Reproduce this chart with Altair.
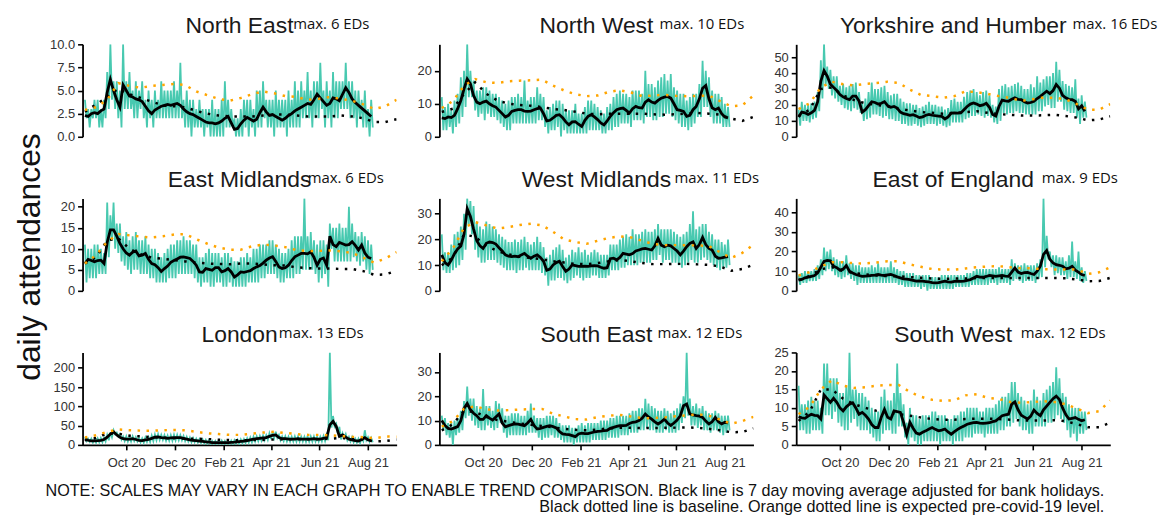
import altair as alt
import pandas as pd

REGIONS = ["North East", "North West", "Yorkshire and Humber",
           "East Midlands", "West Midlands", "East of England",
           "London", "South East", "South West"]
MAX_EDS = [6, 10, 16, 6, 11, 9, 13, 12, 12]

# daily attendances, sampled every 2 days from 2020-08-10 (182 values each)
NE_TEAL = [4, 2, 3, 1, 3, 2, 4, 2, 4, 1, 3, 1, 4, 2, 7, 3, 10, 4, 6, 3,
           6, 2, 5, 1, 10, 3, 6, 3, 7, 3, 5, 2, 6, 2, 5, 3, 6, 2, 4, 1,
           5, 2, 4, 1, 5, 2, 4, 2, 6, 2, 5, 2, 5, 2, 5, 2, 6, 2, 5, 2,
           8, 2, 4, 1, 5, 1, 4, 0, 4, 1, 3, 1, 4, 1, 3, 0, 3, 1, 3, 0,
           4, 0, 3, 0, 3, 0, 4, 0, 6, 1, 4, 1, 3, 1, 2, 0, 2, 0, 3, 0,
           4, 1, 4, 0, 4, 1, 3, 0, 5, 1, 5, 1, 6, 2, 4, 1, 4, 1, 4, 0,
           5, 1, 4, 1, 4, 1, 4, 0, 5, 1, 4, 1, 6, 1, 5, 1, 6, 2, 5, 2,
           7, 2, 5, 1, 6, 2, 6, 2, 8, 3, 5, 1, 6, 2, 5, 1, 7, 2, 6, 2,
           6, 3, 6, 3, 8, 3, 6, 2, 6, 2, 5, 1, 5, 2, 4, 1, 5, 1, 3, 0,
           4, 1]
NW_TEAL = [12, 2, 9, 2, 10, 3, 8, 1, 11, 3, 13, 4, 18, 6, 20, 9, 28, 12, 20, 12,
           17, 8, 14, 6, 14, 7, 15, 5, 15, 7, 14, 6, 13, 6, 13, 5, 12, 4, 11, 3,
           10, 2, 11, 2, 12, 4, 12, 4, 13, 4, 12, 4, 17, 4, 11, 4, 12, 4, 12, 4,
           15, 5, 13, 5, 12, 3, 8, 1, 9, 2, 10, 2, 11, 3, 11, 0, 10, 2, 8, 1,
           8, 1, 8, 1, 10, 1, 7, 1, 7, 1, 9, 1, 11, 2, 11, 2, 10, 2, 9, 2,
           8, 1, 7, 1, 9, 2, 10, 2, 12, 3, 13, 3, 14, 4, 13, 4, 13, 4, 12, 3,
           14, 5, 14, 5, 14, 5, 13, 4, 20, 6, 16, 6, 16, 5, 15, 5, 17, 6, 18, 6,
           19, 7, 17, 7, 19, 6, 15, 5, 14, 4, 13, 3, 13, 3, 11, 2, 12, 3, 13, 4,
           13, 6, 16, 6, 23, 9, 20, 9, 18, 6, 14, 4, 13, 4, 13, 4, 12, 3, 10, 3,
           9, 3]
YH_TEAL = [17, 7, 22, 10, 20, 10, 20, 9, 21, 11, 22, 12, 28, 16, 48, 24, 58, 32, 44, 30,
           42, 26, 38, 24, 38, 22, 32, 20, 33, 18, 31, 17, 32, 16, 33, 18, 34, 17, 28, 15,
           22, 10, 24, 11, 28, 12, 34, 14, 30, 14, 30, 13, 31, 12, 32, 13, 28, 11, 26, 11,
           27, 10, 27, 10, 24, 8, 22, 8, 21, 7, 21, 7, 20, 8, 20, 7, 18, 6, 19, 7,
           20, 8, 22, 8, 20, 8, 20, 7, 19, 8, 19, 7, 17, 6, 18, 7, 23, 9, 24, 9,
           22, 9, 22, 9, 25, 11, 28, 12, 29, 13, 30, 13, 28, 14, 26, 13, 28, 12, 29, 13,
           26, 12, 20, 9, 19, 8, 30, 10, 32, 15, 33, 14, 31, 15, 32, 15, 33, 16, 34, 15,
           32, 15, 30, 14, 30, 14, 33, 14, 31, 14, 38, 16, 34, 16, 36, 19, 38, 20, 38, 18,
           40, 18, 47, 22, 42, 22, 35, 17, 33, 16, 32, 15, 31, 15, 36, 12, 24, 8, 26, 12,
           22, 12]
EM_TEAL = [11, 2, 10, 3, 10, 3, 11, 3, 11, 4, 10, 4, 9, 4, 21, 8, 18, 12, 21, 10,
           16, 9, 16, 7, 13, 6, 14, 5, 12, 4, 13, 5, 14, 5, 12, 4, 12, 4, 13, 4,
           11, 3, 10, 3, 10, 2, 9, 2, 8, 2, 9, 2, 10, 3, 11, 3, 11, 3, 12, 4,
           12, 4, 13, 4, 12, 4, 12, 4, 11, 3, 11, 2, 8, 1, 8, 2, 9, 2, 10, 1,
           9, 1, 9, 2, 9, 2, 8, 1, 9, 1, 9, 2, 8, 1, 7, 1, 7, 1, 8, 1,
           8, 1, 9, 2, 8, 2, 10, 2, 10, 2, 11, 3, 11, 3, 11, 4, 12, 4, 12, 4,
           11, 3, 10, 2, 9, 2, 9, 3, 10, 3, 12, 3, 13, 4, 13, 4, 13, 5, 22, 5,
           13, 5, 14, 5, 12, 4, 11, 2, 12, 3, 12, 4, 11, 1, 16, 10, 15, 7, 15, 7,
           16, 7, 15, 7, 15, 7, 20, 7, 16, 8, 14, 7, 13, 6, 14, 7, 13, 5, 12, 4,
           11, 5]
WM_TEAL = [22, 8, 15, 7, 15, 7, 18, 8, 22, 9, 23, 10, 25, 12, 30, 16, 36, 26, 35, 22,
           33, 16, 27, 13, 25, 11, 24, 11, 27, 12, 26, 12, 25, 12, 24, 11, 22, 10, 21, 9,
           20, 8, 19, 8, 19, 8, 20, 7, 19, 8, 20, 8, 21, 9, 19, 8, 18, 8, 19, 8,
           21, 8, 19, 7, 17, 6, 13, 2, 14, 4, 16, 4, 17, 5, 18, 5, 16, 4, 13, 3,
           14, 4, 16, 5, 15, 6, 17, 5, 15, 4, 16, 5, 14, 5, 15, 6, 16, 6, 15, 5,
           14, 5, 14, 5, 14, 6, 18, 8, 18, 8, 18, 8, 20, 9, 21, 9, 22, 10, 21, 10,
           24, 10, 22, 10, 22, 11, 23, 11, 24, 11, 23, 11, 23, 12, 24, 12, 26, 14, 24, 11,
           24, 12, 24, 12, 24, 11, 23, 11, 22, 10, 21, 9, 22, 10, 23, 11, 26, 12, 31, 11,
           24, 11, 25, 12, 26, 13, 26, 12, 23, 11, 22, 10, 20, 9, 20, 8, 19, 9, 18, 9,
           20, 10]
EE_TEAL = [8, 3, 9, 4, 10, 4, 10, 5, 10, 5, 11, 5, 13, 6, 16, 8, 22, 10, 20, 11,
           21, 10, 17, 8, 16, 7, 15, 6, 15, 7, 18, 8, 14, 6, 14, 5, 13, 3, 13, 4,
           12, 4, 12, 4, 12, 4, 13, 4, 12, 4, 14, 4, 12, 4, 12, 4, 12, 4, 15, 4,
           12, 4, 11, 3, 10, 3, 10, 2, 9, 2, 9, 2, 9, 2, 8, 2, 8, 1, 8, 2,
           8, 0, 8, 1, 7, 1, 7, 1, 7, 1, 8, 1, 8, 1, 8, 1, 8, 1, 8, 2,
           8, 2, 8, 2, 8, 2, 9, 2, 9, 3, 10, 3, 11, 3, 11, 3, 11, 3, 11, 3,
           11, 4, 11, 4, 11, 3, 12, 4, 11, 4, 11, 4, 11, 3, 16, 5, 14, 6, 13, 5,
           13, 4, 14, 5, 13, 5, 13, 5, 13, 4, 14, 6, 16, 7, 47, 12, 28, 16, 20, 12,
           18, 8, 18, 9, 17, 8, 17, 8, 15, 6, 18, 7, 25, 7, 15, 6, 20, 5, 12, 4,
           10, 5]
LO_TEAL = [20, 10, 16, 8, 16, 6, 15, 6, 17, 7, 18, 7, 19, 9, 26, 12, 33, 20, 38, 28,
           32, 22, 28, 14, 22, 10, 22, 9, 21, 9, 22, 10, 20, 9, 18, 7, 17, 6, 19, 8,
           20, 8, 24, 10, 27, 12, 28, 13, 26, 13, 25, 11, 24, 11, 25, 11, 26, 12, 26, 12,
           25, 12, 23, 10, 21, 9, 19, 7, 18, 7, 16, 6, 15, 5, 14, 4, 13, 3, 12, 2,
           10, 2, 10, 2, 10, 2, 11, 2, 10, 2, 10, 2, 11, 2, 12, 3, 13, 3, 14, 4,
           15, 5, 17, 6, 19, 7, 21, 9, 22, 10, 23, 11, 24, 12, 25, 13, 30, 15, 33, 18,
           34, 18, 26, 12, 22, 10, 22, 9, 21, 9, 21, 9, 22, 9, 22, 9, 21, 9, 21, 8,
           22, 9, 22, 9, 22, 9, 21, 9, 21, 9, 23, 10, 25, 12, 240, 45, 75, 48, 55, 30,
           47, 14, 30, 18, 28, 12, 21, 9, 20, 7, 16, 6, 16, 5, 18, 10, 38, 12, 20, 8,
           18, 7]
SE_TEAL = [12, 6, 11, 4, 9, 3, 9, 0, 10, 4, 11, 5, 14, 6, 18, 11, 24, 12, 19, 10,
           19, 8, 16, 7, 15, 6, 23, 6, 16, 8, 16, 7, 14, 6, 18, 7, 17, 9, 15, 5,
           12, 3, 12, 4, 13, 4, 13, 4, 13, 4, 12, 4, 12, 4, 14, 5, 17, 5, 12, 5,
           11, 3, 11, 2, 11, 3, 12, 3, 12, 4, 12, 3, 11, 3, 9, 2, 8, 1, 8, 1,
           8, 1, 7, 0, 7, 1, 8, 1, 9, 1, 8, 1, 9, 1, 9, 2, 9, 2, 9, 2,
           10, 2, 10, 2, 10, 3, 11, 3, 11, 3, 12, 3, 12, 4, 12, 4, 12, 4, 13, 5,
           14, 5, 14, 5, 15, 6, 15, 6, 19, 7, 17, 6, 16, 6, 15, 5, 14, 5, 14, 5,
           15, 6, 14, 5, 13, 5, 14, 5, 15, 6, 17, 9, 20, 11, 38, 12, 19, 8, 16, 8,
           17, 7, 15, 8, 16, 6, 14, 6, 13, 5, 13, 6, 14, 6, 13, 5, 12, 4, 12, 5,
           12, 6]
SW_TEAL = [16, 4, 11, 4, 11, 3, 12, 3, 13, 4, 12, 4, 12, 4, 10, 3, 22, 8, 22, 8,
           18, 7, 18, 9, 18, 6, 14, 5, 14, 4, 16, 4, 25, 6, 15, 7, 15, 5, 14, 4,
           14, 4, 13, 4, 12, 3, 10, 2, 9, 1, 9, 1, 13, 3, 15, 4, 12, 4, 12, 3,
           14, 3, 22, 5, 14, 5, 11, 2, 6, 0, 10, 2, 8, 1, 8, 0, 7, 0, 8, 1,
           8, 1, 8, 1, 9, 1, 9, 1, 8, 0, 8, 1, 8, 1, 7, 1, 7, 0, 8, 1,
           8, 1, 9, 1, 9, 2, 10, 2, 10, 2, 10, 3, 10, 3, 9, 3, 9, 2, 10, 3,
           10, 3, 10, 3, 11, 3, 12, 4, 13, 4, 13, 5, 14, 5, 17, 6, 17, 7, 14, 5,
           13, 4, 12, 4, 11, 3, 12, 3, 15, 5, 13, 5, 12, 5, 14, 5, 15, 6, 16, 6,
           17, 7, 21, 8, 18, 7, 14, 6, 13, 4, 11, 2, 10, 3, 10, 1, 10, 3, 9, 3,
           9, 4]

# 7 day moving average, sampled every 4 days from 2020-08-10 (91 values each)
NE_MA = [2.3, 2.2, 2.5, 2.6, 2.5, 2.8, 3.0, 4.8, 6.2, 5.0,
         4.0, 3.2, 5.6, 5.0, 4.4, 4.3, 4.1, 4.0, 3.8, 3.3,
         2.8, 2.5, 2.9, 3.1, 3.3, 3.4, 3.5, 3.4, 3.5, 3.6,
         3.4, 3.0, 2.7, 2.5, 2.4, 2.2, 2.0, 1.8, 1.6, 1.5,
         1.5, 1.4, 1.5, 1.7, 2.0, 2.2, 1.5, 0.8, 0.9, 1.4,
         1.8, 2.1, 1.9, 1.7, 1.9, 2.6, 3.2, 2.7, 2.3, 2.4,
         2.2, 2.0, 1.8, 2.0, 2.3, 2.5, 2.8, 3.0, 3.2, 3.4,
         3.6, 3.5, 4.0, 4.6, 4.2, 3.8, 3.4, 3.6, 4.2, 4.1,
         3.9, 4.6, 5.3, 4.8, 4.1, 3.7, 3.4, 3.1, 2.8, 2.5,
         2.2]
NW_MA = [5.7, 5.5, 6.0, 5.8, 6.5, 8.5, 11.0, 14.5, 17.5, 16.0,
         12.5, 10.5, 10.0, 10.5, 10.8, 10.0, 9.4, 9.0, 8.0, 7.0,
         6.0, 6.5, 7.7, 8.0, 8.2, 8.2, 7.8, 7.7, 7.8, 8.2,
         8.5, 8.7, 7.0, 4.8, 5.0, 5.7, 6.5, 6.7, 5.8, 4.5,
         3.6, 4.5, 4.6, 3.8, 3.1, 5.0, 6.2, 6.7, 6.0, 5.2,
         4.2, 3.6, 4.8, 6.2, 7.3, 8.2, 8.5, 8.7, 8.0, 7.2,
         8.5, 9.2, 8.8, 8.7, 10.5, 11.2, 10.5, 10.2, 11.0, 11.7,
         12.0, 12.2, 11.7, 10.0, 8.2, 8.0, 7.7, 6.2, 6.5, 8.2,
         9.2, 11.5, 14.7, 15.5, 11.5, 8.8, 8.2, 8.7, 7.0, 6.0,
         5.7]
YH_MA = [12.4, 15.5, 15.0, 14.0, 15.0, 16.5, 22.0, 35.0, 41.5, 38.0,
         33.0, 31.0, 29.0, 26.5, 25.0, 24.0, 23.3, 25.5, 25.5, 22.5,
         15.5, 17.0, 19.5, 22.0, 21.5, 20.5, 21.0, 22.0, 19.5, 18.5,
         19.0, 18.0, 15.5, 14.5, 14.0, 13.5, 13.9, 13.0, 12.0, 12.5,
         13.5, 14.0, 13.5, 13.2, 13.0, 12.8, 11.2, 12.5, 14.8, 15.0,
         14.8, 15.0, 17.0, 19.0, 20.5, 21.2, 20.5, 19.5, 20.0, 21.0,
         18.5, 14.0, 13.0, 19.0, 23.0, 22.5, 22.3, 23.5, 24.4, 23.5,
         23.3, 22.0, 21.2, 21.5, 22.3, 24.0, 25.4, 27.0, 28.6, 27.1,
         29.0, 32.8, 30.5, 26.0, 24.4, 23.5, 23.3, 22.3, 17.5, 19.5,
         16.0]
EM_MA = [6.5, 7.5, 7.2, 6.9, 7.2, 7.3, 6.5, 11.5, 14.5, 14.5,
         13.0, 11.3, 10.0, 9.0, 8.5, 9.2, 9.5, 8.3, 8.5, 8.9,
         7.5, 6.5, 6.2, 5.5, 4.6, 5.3, 5.9, 6.8, 7.2, 7.6,
         8.0, 8.1, 7.9, 7.7, 7.0, 6.1, 4.5, 4.4, 5.3, 5.1,
         4.9, 5.5, 5.5, 4.5, 4.8, 5.3, 4.5, 3.3, 3.8, 4.5,
         4.4, 4.6, 4.8, 5.3, 5.7, 6.0, 6.6, 7.3, 7.8, 8.1,
         7.0, 5.7, 5.3, 5.5, 6.1, 7.2, 8.1, 8.5, 8.9, 8.9,
         8.8, 9.3, 8.0, 6.1, 7.5, 7.8, 6.1, 13.0, 11.0, 10.5,
         11.5, 11.2, 10.9, 11.0, 11.7, 10.8, 9.7, 10.9, 9.0, 8.0,
         7.7]
WM_MA = [14.0, 11.0, 10.1, 12.0, 14.5, 16.3, 17.5, 22.0, 32.0, 29.0,
         24.0, 19.5, 17.5, 16.5, 18.5, 19.0, 18.8, 18.2, 16.8, 15.5,
         14.0, 13.5, 13.3, 13.5, 13.3, 14.0, 14.6, 13.5, 12.7, 13.5,
         14.0, 13.0, 11.5, 8.0, 8.5, 10.1, 11.0, 11.5, 9.5, 7.6,
         8.5, 10.1, 9.8, 9.5, 9.5, 9.6, 9.5, 9.7, 9.8, 9.7,
         9.2, 8.8, 9.0, 12.5, 12.7, 12.1, 13.0, 14.6, 14.3, 14.0,
         14.5, 15.5, 15.9, 16.3, 16.5, 16.2, 15.9, 17.5, 20.4, 17.8,
         17.2, 17.8, 17.5, 16.5, 15.5, 14.0, 15.5, 17.2, 18.5, 19.1,
         16.5, 18.0, 20.8, 18.0, 16.5, 15.9, 13.5, 12.7, 12.8, 13.1,
         13.3]
EE_MA = [5.4, 5.8, 6.6, 7.0, 7.4, 7.8, 9.1, 12.0, 15.0, 15.5,
         15.3, 12.5, 11.8, 10.5, 11.0, 12.8, 10.0, 9.1, 8.3, 7.8,
         7.4, 7.5, 7.6, 7.8, 8.0, 8.3, 8.0, 7.8, 8.1, 8.3,
         7.8, 7.1, 6.6, 6.1, 5.9, 5.7, 5.3, 4.9, 5.0, 4.9,
         4.7, 4.5, 4.2, 4.0, 4.2, 4.6, 4.9, 4.6, 4.4, 4.8,
         4.9, 4.8, 4.9, 5.3, 5.7, 6.5, 7.4, 7.0, 6.9, 7.3,
         7.8, 7.6, 7.4, 7.6, 7.8, 7.5, 7.4, 9.5, 11.6, 9.5,
         8.8, 9.2, 9.4, 8.8, 8.3, 10.0, 12.5, 18.5, 20.5, 16.0,
         14.2, 13.3, 13.0, 12.5, 11.2, 11.5, 12.5, 10.5, 9.5, 8.3,
         7.8]
LO_MA = [15, 12, 10.5, 10.5, 11, 12, 14, 20, 28, 34,
         26, 20, 16, 15, 15, 16, 14, 12, 11, 13,
         14, 17, 20, 21, 19, 18, 17, 18, 19, 19,
         19, 17, 15, 13, 12, 11, 10, 9, 8, 7,
         6, 6, 6, 6, 6, 6, 6.5, 7, 8, 9,
         10, 11, 13, 15, 16, 17, 18, 19, 22, 25,
         26, 19, 16, 16, 15, 15, 15, 16, 15, 15,
         15, 15, 16, 15, 15, 17, 19, 52, 61, 48,
         22, 26, 20, 15, 13, 11, 10, 14, 19, 13,
         12]
SE_MA = [10.0, 8.0, 6.8, 6.5, 7.0, 7.5, 10.0, 15.0, 17.0, 14.5,
         13.0, 12.0, 10.5, 10.5, 12.0, 11.0, 10.2, 11.5, 12.7, 9.0,
         7.4, 7.9, 8.3, 8.6, 8.5, 8.2, 7.9, 9.0, 10.5, 8.0,
         6.5, 6.8, 7.2, 7.6, 7.9, 7.5, 7.0, 5.5, 4.5, 4.3,
         4.2, 3.8, 3.4, 4.5, 4.8, 4.6, 4.6, 5.0, 5.3, 5.6,
         5.7, 5.9, 6.0, 6.8, 7.2, 7.6, 7.9, 7.9, 8.0, 8.8,
         9.3, 9.5, 10.0, 11.0, 12.7, 11.5, 10.6, 9.5, 8.6, 9.5,
         10.6, 9.0, 8.0, 9.0, 10.2, 12.0, 16.1, 16.8, 12.7, 12.3,
         12.0, 11.8, 11.3, 9.8, 8.6, 9.5, 11.3, 9.5, 8.6, 9.3,
         9.0]
SW_MA = [7.6, 7.3, 7.2, 7.8, 8.3, 8.0, 7.9, 7.0, 13.5, 12.5,
         11.5, 12.6, 11.5, 10.0, 9.2, 10.3, 11.0, 11.4, 10.0, 8.3,
         8.8, 8.0, 7.0, 5.5, 4.7, 4.7, 7.5, 9.6, 7.5, 7.0,
         9.2, 9.0, 8.8, 6.1, 2.8, 6.1, 4.5, 3.2, 2.9, 3.4,
         3.8, 4.3, 4.7, 4.2, 3.8, 4.0, 4.3, 3.5, 2.9, 3.6,
         4.2, 4.7, 5.1, 5.6, 5.8, 6.0, 6.1, 5.9, 5.8, 5.9,
         6.0, 6.3, 6.5, 7.2, 7.9, 8.1, 8.3, 11.0, 11.6, 9.5,
         8.0, 7.5, 7.0, 7.8, 9.4, 8.5, 7.9, 9.5, 10.5, 11.5,
         12.5, 13.2, 12.3, 10.0, 8.2, 7.0, 7.2, 7.4, 6.9, 6.5,
         6.8]

# baseline and expected pre-covid level, every 14 days from 2020-08-10 (29 values)
NE_BASE = [2.7, 3.5, 4.3, 5.2, 4.6, 4.2, 3.8, 3.4, 3.3, 3.2, 2.8, 2.5, 2.3, 2.2, 2.2,
           2.2, 2.3, 2.4, 2.4, 2.3, 2.2, 2.2, 2.2, 2.3, 2.2, 2.0, 1.6, 1.6, 1.9]
NE_EXP = [2.9, 3.2, 4.0, 5.8, 5.5, 5.3, 5.5, 5.6, 5.7, 5.6, 4.9, 4.5, 4.1, 3.9, 4.2,
          4.6, 4.9, 4.7, 4.4, 4.3, 4.0, 4.1, 4.3, 4.1, 3.9, 3.5, 3.0, 3.3, 4.0]
NW_BASE = [7.5, 8.5, 13.0, 16.5, 13.0, 11.0, 10.0, 9.6, 9.4, 9.0, 8.4, 8.1, 7.6, 7.0, 6.8,
           7.0, 7.0, 7.0, 7.0, 6.8, 6.7, 6.8, 7.0, 7.2, 7.0, 6.7, 5.5, 4.8, 6.0]
NW_EXP = [8.7, 10.8, 15.5, 17.5, 16.5, 16.3, 16.8, 17.0, 17.1, 17.3, 15.5, 14.0, 12.9, 12.3, 12.5,
          13.6, 14.1, 13.4, 12.3, 12.5, 12.7, 12.4, 12.3, 12.4, 12.5, 10.8, 9.2, 9.5, 12.5]
YH_BASE = [13, 17, 30, 31, 26, 23, 21, 20, 19, 17.5, 16.5, 15.5, 15.0, 14.5, 15.0,
           15.5, 16.0, 15.0, 14.2, 13.8, 13.3, 13.3, 13.5, 13.8, 13.0, 12.0, 10.3, 10.8, 12.8]
YH_EXP = [17.4, 21.0, 31.0, 34.5, 33.0, 32.2, 33.2, 33.8, 34.5, 33.8, 29.5, 26.2, 25.5, 24.5, 25.5,
          28.5, 28.0, 26.9, 25.5, 24.3, 22.5, 23.5, 24.6, 24.5, 23.5, 20.5, 17.0, 17.0, 20.5]
EM_BASE = [6.5, 8.0, 12.0, 12.5, 10.0, 8.7, 7.9, 7.6, 7.3, 7.0, 6.7, 6.5, 6.4, 6.3, 6.5,
           6.5, 6.3, 6.1, 6.0, 5.6, 5.4, 5.3, 5.3, 5.2, 5.2, 4.7, 3.8, 3.9, 4.8]
EM_EXP = [6.5, 8.5, 11.7, 13.5, 13.2, 12.9, 12.7, 13.0, 13.4, 13.5, 12.3, 11.2, 10.3, 9.8, 9.8,
          10.6, 11.0, 10.8, 10.4, 9.7, 9.5, 9.5, 9.6, 9.4, 9.0, 7.9, 6.7, 7.7, 9.2]
WM_BASE = [10.0, 13.0, 22.0, 21.0, 17.5, 15.5, 14.2, 13.3, 12.8, 12.3, 11.5, 11.0, 10.5, 10.4, 10.8,
           11.5, 12.0, 11.5, 10.8, 10.4, 10.4, 10.5, 10.5, 10.3, 10.1, 9.5, 7.8, 8.5, 10.2]
WM_EXP = [11.5, 16.5, 24.5, 26.8, 25.5, 24.3, 24.8, 25.6, 26.1, 25.5, 23.0, 20.0, 19.0, 18.3, 19.5,
          20.6, 21.2, 20.8, 19.5, 18.2, 17.8, 17.8, 17.7, 17.7, 17.4, 15.0, 12.8, 14.8, 18.0]
EE_BASE = [5.5, 7.5, 11.0, 12.0, 10.0, 9.0, 8.3, 7.8, 7.5, 7.4, 7.0, 6.6, 6.3, 6.1, 6.2,
           6.3, 6.5, 6.6, 6.5, 6.5, 6.5, 6.5, 6.5, 6.5, 6.4, 5.8, 4.9, 5.0, 6.6]
EE_EXP = [7.8, 9.5, 12.5, 14.5, 14.5, 14.0, 13.9, 14.4, 15.0, 15.0, 13.4, 12.2, 11.1, 10.8, 10.8,
          11.4, 12.0, 12.4, 12.5, 12.0, 11.5, 11.4, 11.0, 10.9, 10.8, 10.8, 8.6, 9.4, 12.0]
LO_BASE = [12, 18, 30, 29, 24, 22, 20, 19, 17, 16.5, 16, 15, 13.5, 12.5, 12,
           12.5, 13, 14, 14.5, 14.5, 14.5, 15, 16, 18, 16, 14, 9, 10, 14]
LO_EXP = [19, 25, 34, 40, 38, 37, 37, 38, 39, 38, 34, 30, 28, 26, 26,
          29, 32, 34, 31, 28, 26, 26, 25, 23, 21, 20, 17, 22, 21]
SE_BASE = [6.0, 8.5, 14.0, 13.5, 11.5, 10.2, 9.5, 8.8, 8.3, 7.8, 7.2, 6.6, 6.2, 6.0, 6.3,
           6.8, 7.0, 7.0, 6.9, 6.9, 7.0, 7.1, 7.2, 7.0, 6.6, 6.0, 5.2, 5.3, 6.8]
SE_EXP = [7.5, 9.8, 14.8, 15.9, 14.6, 14.1, 14.3, 14.5, 14.7, 14.8, 12.8, 11.7, 10.6, 10.4, 11.4,
          12.0, 12.3, 11.7, 11.0, 11.0, 11.3, 11.8, 12.1, 12.6, 12.0, 10.4, 8.7, 9.8, 11.5]
SW_BASE = [6.5, 9.0, 15.0, 15.0, 12.5, 11.0, 10.0, 9.2, 8.8, 8.3, 7.9, 7.4, 7.0, 6.8, 6.8,
           7.0, 7.1, 7.1, 7.0, 6.8, 6.6, 6.6, 6.6, 6.7, 6.4, 5.6, 4.8, 4.8, 6.0]
SW_EXP = [8.3, 10.3, 15.0, 17.5, 16.0, 15.4, 15.6, 16.0, 16.2, 16.2, 14.3, 13.0, 12.2, 11.9, 12.1,
          13.4, 13.7, 12.7, 12.4, 11.6, 11.4, 11.6, 11.8, 11.6, 11.0, 9.8, 8.6, 9.1, 12.0]

Y_TICKS = [[0, 2.5, 5, 7.5, 10], [0, 10, 20], [0, 10, 20, 30, 40, 50],
           [0, 5, 10, 15, 20], [0, 10, 20, 30], [0, 10, 20, 30, 40],
           [0, 50, 100, 150, 200], [0, 10, 20, 30], [0, 5, 10, 15, 20, 25]]
Y_FORMAT = [".1f", "d", "d", "d", "d", "d", "d", "d", "d"]

CAPTION_1 = ("NOTE: SCALES MAY VARY IN EACH GRAPH TO ENABLE TREND COMPARISON. "
             "Black line is 7 day moving average adjusted for bank holidays.")
CAPTION_2 = "Black dotted line is baseline. Orange dotted line is expected pre-covid-19 level."
Y_TITLE = "daily attendances"

TEALS = [NE_TEAL, NW_TEAL, YH_TEAL, EM_TEAL, WM_TEAL, EE_TEAL, LO_TEAL, SE_TEAL, SW_TEAL]
MAS = [NE_MA, NW_MA, YH_MA, EM_MA, WM_MA, EE_MA, LO_MA, SE_MA, SW_MA]
BASES = [NE_BASE, NW_BASE, YH_BASE, EM_BASE, WM_BASE, EE_BASE, LO_BASE, SE_BASE, SW_BASE]
EXPS = [NE_EXP, NW_EXP, YH_EXP, EM_EXP, WM_EXP, EE_EXP, LO_EXP, SE_EXP, SW_EXP]

TEAL_DATES = pd.date_range("2020-08-10", periods=182, freq="2D")
MA_DATES = pd.date_range("2020-08-10", periods=91, freq="4D")
REF_DATES = pd.date_range("2020-08-10", periods=29, freq="14D")

for arr in TEALS:
    assert len(arr) == 182, len(arr)
for arr in MAS:
    assert len(arr) == 91, len(arr)
for arr in BASES + EXPS:
    assert len(arr) == 29, len(arr)

# layout / style
W, H = 316, 93
TEAL = "#48C9B0"
ORANGE = "#FFA500"
FONT = "Liberation Sans"
MAX_DX = [54, 63.5, 120, 68.5, 78.5, 89, 39.5, 61.5, 68]

x_scale = alt.Scale(domain=[alt.DateTime(year=2020, month=8, date=7),
                            alt.DateTime(year=2021, month=9, date=6)])
x_ticks = [alt.DateTime(year=2020, month=10, date=1), alt.DateTime(year=2020, month=12, date=1),
           alt.DateTime(year=2021, month=2, date=1), alt.DateTime(year=2021, month=4, date=1),
           alt.DateTime(year=2021, month=6, date=1), alt.DateTime(year=2021, month=8, date=1)]


def series(vals, dates):
    return pd.DataFrame({"date": dates, "v": vals})


def panel(k):
    ymax = max(TEALS[k])
    y = alt.Y("v:Q", title=None,
              scale=alt.Scale(domain=[0, ymax], nice=False, zero=True),
              axis=alt.Axis(values=Y_TICKS[k], format=Y_FORMAT[k], grid=False,
                            domainColor="black", domainWidth=1.8, tickColor="black",
                            tickWidth=1.6, tickSize=5, labelColor="#333333", labelFont=FONT,
                            labelFontSize=13, labelPadding=3))
    if k >= 6:
        xaxis = alt.Axis(values=x_ticks, format="%b %y", grid=False, domainColor="black",
                         domainWidth=1.8, tickColor="black", tickWidth=1.6, tickSize=5,
                         labelColor="#333333", labelFont=FONT, labelFontSize=13,
                         labelPadding=7)
    else:
        xaxis = None
    x = alt.X("date:T", title=None, scale=x_scale, axis=xaxis)

    layers = [
        alt.Chart(series(TEALS[k], TEAL_DATES)).mark_line(
            color=TEAL, strokeWidth=1.8, clip=True).encode(x=x, y=y),
        alt.Chart(series(MAS[k], MA_DATES)).mark_line(
            color="black", strokeWidth=2.8, clip=True).encode(x=x, y=y),
        alt.Chart(series(BASES[k], REF_DATES)).mark_line(
            color="black", strokeWidth=2.5, strokeDash=[2.5, 6.5], clip=True).encode(x=x, y=y),
        alt.Chart(series(EXPS[k], REF_DATES)).mark_line(
            color=ORANGE, strokeWidth=2.5, strokeDash=[2.5, 6.5], clip=True).encode(x=x, y=y),
        alt.Chart(pd.DataFrame({"t": [REGIONS[k]]})).mark_text(
            font=FONT, fontSize=23, color="#1a1a1a", align="center", baseline="alphabetic"
        ).encode(x=alt.value(W / 2), y=alt.value(-11), text="t:N"),
        alt.Chart(pd.DataFrame({"t": ["max. %d EDs" % MAX_EDS[k]]})).mark_text(
            font="Open Sans", fontSize=15, color="#111111", align="left", baseline="alphabetic"
        ).encode(x=alt.value(W / 2 + MAX_DX[k]), y=alt.value(-15), text="t:N"),
    ]
    if k == 3:
        layers.append(alt.Chart(pd.DataFrame({"t": [Y_TITLE]})).mark_text(
            font=FONT, fontSize=32, color="#111111", angle=270, align="center", baseline="middle"
        ).encode(x=alt.value(-53), y=alt.value(59), text="t:N"))
    if k == 8:
        layers.append(alt.Chart(pd.DataFrame({"t": [CAPTION_1]})).mark_text(
            font=FONT, fontSize=16.3, color="#111111", align="right", baseline="alphabetic"
        ).encode(x=alt.value(W - 6), y=alt.value(144), text="t:N"))
        layers.append(alt.Chart(pd.DataFrame({"t": [CAPTION_2]})).mark_text(
            font=FONT, fontSize=16.3, color="#111111", align="right", baseline="alphabetic"
        ).encode(x=alt.value(W - 6), y=alt.value(161), text="t:N"))
    return alt.layer(*layers).properties(width=W, height=H)


chart = alt.concat(*[panel(k) for k in range(9)], columns=3,
                   spacing={"row": 62, "column": 43}, bounds="flush").configure_view(
    stroke=None).properties(padding={"left": 5, "top": 6, "right": 0, "bottom": 0},
                            background="white")

chart.save("out.html", embed_options={"renderer": "svg", "actions": False})
